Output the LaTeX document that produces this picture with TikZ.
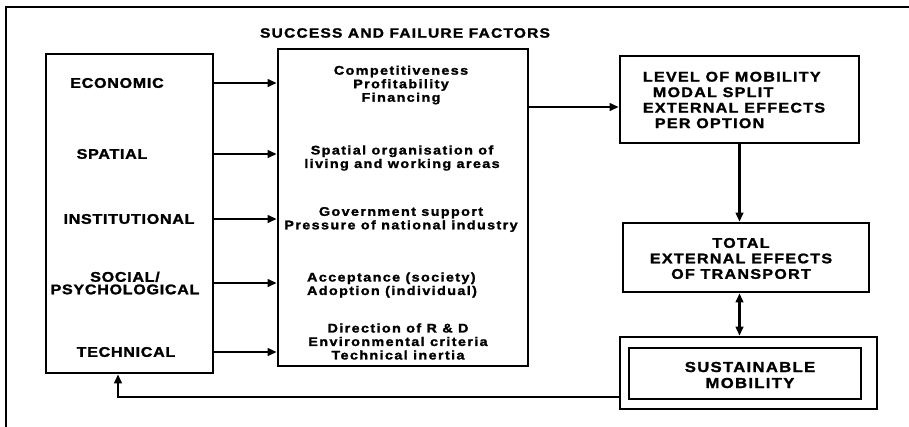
\documentclass[tikz,border=0pt]{standalone}
\usepackage{fontspec}
\usetikzlibrary{arrows.meta}
\newfontfamily\capf{Liberation Sans}[FakeStretch=1.15,LetterSpace=5,FakeBold=1.6]
\newfontfamily\capw{Liberation Sans}[FakeStretch=1.15,LetterSpace=9,FakeBold=1.6]
\newfontfamily\lowf{Liberation Sans}[FakeStretch=1.15,LetterSpace=11,FakeBold=1.6]
\begin{document}
\begin{tikzpicture}[x=1pt,y=-1pt,
  box/.style={draw,line width=2.6pt,inner sep=0pt},
  caps/.style={inner sep=0pt,align=center,font=\capf\bfseries\fontsize{14}{12.5}\selectfont},
  capr/.style={inner sep=0pt,font=\capw\bfseries\fontsize{14}{15.5}\selectfont},
  low/.style={inner sep=0pt,align=center,font=\lowf\bfseries\fontsize{12.5}{13.5}\selectfont},
  arr/.style={line width=2.8pt,-{Triangle[length=9pt,width=7.5pt]}},
  darr/.style={line width=2.8pt,{Triangle[length=9pt,width=7.5pt]}-{Triangle[length=9pt,width=7.5pt]}}]
\useasboundingbox (0,0) rectangle (909,426);
% outer frame (cropped at right and bottom)
\draw[line width=2.4pt] (920,7) -- (6,7) -- (6,440);
% title
\node[inner sep=0pt,font=\capw\bfseries\fontsize{13.5}{14}\selectfont] (title) at (405,33) {SUCCESS AND FAILURE FACTORS};
% boxes
\node[box,minimum width=167,minimum height=319] (L) at (129.5,213.5) {};
\node[box,minimum width=250,minimum height=317] (M) at (403,207.5) {};
\node[box,minimum width=239,minimum height=87] (R1) at (739.5,99.5) {};
\node[box,minimum width=246,minimum height=69] (R2) at (746,257.5) {};
\node[box,minimum width=257,minimum height=72] (R3o) at (748.5,373) {};
\node[box,minimum width=232,minimum height=51] (R3i) at (745,373.5) {};
% left labels
\node[caps] (eco) at (117,83) {ECONOMIC};
\node[caps] (spa) at (112,154) {SPATIAL};
\node[caps] (ins) at (129,219) {INSTITUTIONAL};
\node[caps] (soc) at (125,283) {SOCIAL/\\PSYCHOLOGICAL};
\node[caps] (tec) at (126,352) {TECHNICAL};
% middle texts
\node[low] (m1) at (401,85) {Competitiveness\\Profitability\\Financing};
\node[low] (m2) at (402,158) {Spatial organisation of\\living and working areas};
\node[low] (m3) at (401,219.5) {Government support\\Pressure of national industry};
\node[low,align=left] (m4) at (392,285) {Acceptance (society)\\Adoption (individual)};
\node[low] (m5) at (398,341.5) {Direction of R \& D\\Environmental criteria\\Technical inertia};
% right texts
\node[capr,align=left] (r1) at (734,100) {LEVEL OF MOBILITY\\\hspace*{10pt}MODAL SPLIT\\EXTERNAL EFFECTS\\\hspace*{12pt}PER OPTION};
\node[capr,align=center] (r2) at (741,258.5) {TOTAL\\EXTERNAL EFFECTS\\OF TRANSPORT};
\node[capr,align=center,font=\capw\bfseries\fontsize{14.5}{16}\selectfont] (r3) at (750,375) {SUSTAINABLE\\MOBILITY};
% arrows left -> middle
\draw[arr] (eco -| L.east) -- (eco -| M.west);
\draw[arr] (spa -| L.east) -- (spa -| M.west);
\draw[arr] (ins -| L.east) -- (ins -| M.west);
\draw[arr] (soc -| L.east) -- (soc -| M.west);
\draw[arr] (tec -| L.east) -- (tec -| M.west);
% middle -> right chain
\draw[arr] (M.east |- 0,107) -- (R1.west |- 0,107);
\draw[arr] (R1.south) -- (R1.south |- R2.north);
\draw[darr] (R1.south |- R2.south) -- (R1.south |- R3o.north);
% feedback
\draw[arr] (R3o.west |- 0,397) -| ([xshift=-11.5pt]L.south);
\end{tikzpicture}
\end{document}
